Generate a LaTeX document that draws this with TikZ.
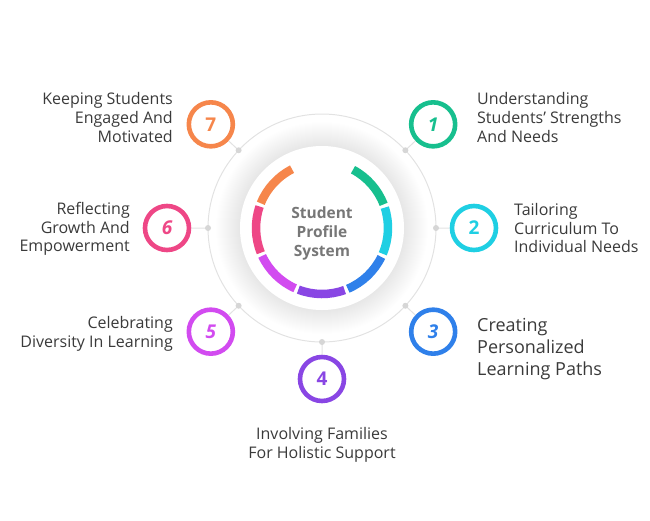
\documentclass[tikz,border=0pt]{standalone}
\usepackage{fontspec}
\setmainfont{Open Sans}
\definecolor{cOne}{HTML}{17BF8E}
\definecolor{cTwo}{HTML}{1FCFE3}
\definecolor{cThree}{HTML}{2F80EA}
\definecolor{cFour}{HTML}{8946E4}
\definecolor{cFive}{HTML}{D24BF0}
\definecolor{cSix}{HTML}{EE4786}
\definecolor{cSeven}{HTML}{F6864B}
\definecolor{txtgray}{HTML}{3A3A3A}
\definecolor{centergray}{HTML}{777777}
\definecolor{linegray}{HTML}{E2E2E2}
\definecolor{dotgray}{HTML}{D6D6D6}

\tikzset{
	badge/.style={circle, draw=#1, line width=4.6pt, fill=white, minimum size=44pt, inner sep=0pt, text=#1, font=\fontsize{19}{19}\selectfont\bfseries},
	lbl/.style={inner sep=0pt, text=txtgray, font=\fontsize{16}{18.6}\selectfont},
	seg/.style={draw=#1, line width=8.5pt},
	link/.style={draw=linegray, line width=1pt},
	dot/.style={circle, fill=dotgray, inner sep=0pt, minimum size=6pt}
}

\begin{document}
\begin{tikzpicture}[x=1pt,y=1pt]

\useasboundingbox (0,0) rectangle (650,-520);

\begin{scope}
	\coordinate (O) at (322,-228);
	%
	\coordinate (d1) at ([shift={(43:114)}]O);
	\coordinate (d2) at ([shift={(0:114)}]O);
	\coordinate (d3) at ([shift={(-43:114)}]O);
	\coordinate (d4) at ([shift={(-90:114)}]O);
	\coordinate (d5) at ([shift={(-137:114)}]O);
	\coordinate (d6) at ([shift={(180:114)}]O);
	\coordinate (d7) at ([shift={(137:114)}]O);
\end{scope}

% outer guide circle and soft shadow
\draw[linegray, line width=1pt] (O) circle[radius=114];
\foreach \r in {83,...,106}
	\fill[black, opacity=0.0035] (O) circle[radius=\r];
\fill[white] (O) circle[radius=82];

% coloured ring
\draw[seg=cOne] ([shift={(62:66)}]O) arc[start angle=62, end angle=21, radius=66];
\draw[seg=cTwo] ([shift={(18:66)}]O) arc[start angle=18, end angle=-23, radius=66];
\draw[seg=cThree] ([shift={(-26:66)}]O) arc[start angle=-26, end angle=-67, radius=66];
\draw[seg=cFour] ([shift={(-70:66)}]O) arc[start angle=-70, end angle=-111, radius=66];
\draw[seg=cFive] ([shift={(-114:66)}]O) arc[start angle=-114, end angle=-155, radius=66];
\draw[seg=cSix] ([shift={(-158:66)}]O) arc[start angle=-158, end angle=-199, radius=66];
\draw[seg=cSeven] ([shift={(-202:66)}]O) arc[start angle=-202, end angle=-243, radius=66];

\node[font=\fontsize{15.5}{19}\selectfont\bfseries, text=centergray, align=center] (title) at ([yshift=-5]O) {Student\\Profile\\System};

% badges
\node[badge=cOne] (b1) at ([shift={(43:152)}]O) {\itshape 1};
\node[badge=cTwo] (b2) at ([shift={(0:152)}]O) {2};
\node[badge=cThree] (b3) at ([shift={(-43:152)}]O) {\itshape 3};
\node[badge=cFour] (b4) at ([shift={(-90:151)}]O) {4};
\node[badge=cFive] (b5) at ([shift={(-137:152)}]O) {\itshape 5};
\node[badge=cSix] (b6) at ([shift={(180:155)}]O) {\itshape 6};
\node[badge=cSeven] (b7) at ([shift={(137:152)}]O) {7};

\draw[link]
	(b1) -- (d1)
	(b2) -- (d2)
	(b3) -- (d3)
	(b4) -- (d4)
	(b5) -- (d5)
	(b6) -- (d6)
	(b7) -- (d7);

\node[dot] (p1) at (d1) {};
\node[dot] (p2) at (d2) {};
\node[dot] (p3) at (d3) {};
\node[dot] (p4) at (d4) {};
\node[dot] (p5) at (d5) {};
\node[dot] (p6) at (d6) {};
\node[dot] (p7) at (d7) {};

% labels
\node[lbl, align=left, anchor=west] (t1) at (477,-117.5) {Understanding\\Students{\char"0027} Strengths\\And Needs};
\node[lbl, align=left, anchor=west] (t2) at (514,-228) {Tailoring\\Curriculum To\\Individual Needs};
\node[lbl, align=left, anchor=west, font=\fontsize{18}{22}\selectfont] (t3) at (477,-349) {Creating\\Personalized\\Learning Paths};
\node[lbl, align=center] (t4) at (322,-445) {Involving Families\\For Holistic Support};
\node[lbl, align=right, anchor=east] (t5) at (173,-334) {Celebrating\\Diversity In Learning};
\node[lbl, align=right, anchor=east] (t6) at (130,-229) {Reflecting\\Growth And\\Empowerment};
\node[lbl, align=right, anchor=east] (t7) at (173,-117.5) {Keeping Students\\Engaged And\\Motivated};

\end{tikzpicture}
\end{document}
